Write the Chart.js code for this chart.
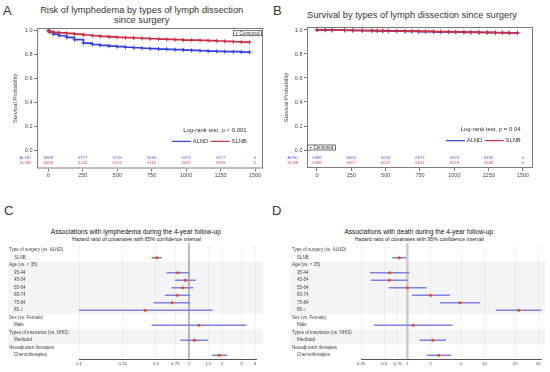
<!DOCTYPE html>
<html>
<head>
<meta charset="utf-8">
<script src="https://cdn.jsdelivr.net/npm/chart.js@4.4.0/dist/chart.umd.min.js"></script>
<style>
body { margin: 0; width: 550px; height: 372px; background: #fff; position: relative; overflow: hidden;
       font-family: "Liberation Sans", Arial, sans-serif; color: #333; }
canvas { position: absolute; }
.lt { position: absolute; font-size: 13px; line-height: 13px; color: #333; }
.tt { position: absolute; white-space: nowrap; transform: translateX(-50%); color: #333; }
</style>
</head>
<body>
<div class="lt" style="left:3px;top:4px">A</div>
<div class="lt" style="left:273px;top:4px">B</div>
<div class="lt" style="left:4px;top:204px">C</div>
<div class="lt" style="left:272px;top:204px">D</div>

<div class="tt" style="left:141.7px;top:6.1px;font-size:9.3px;line-height:9.3px">Risk of lymphedema by types of lymph dissection</div>
<div class="tt" style="left:141.7px;top:16.4px;font-size:9.3px;line-height:9.3px">since surgery</div>
<div class="tt" style="left:412px;top:11.1px;font-size:9.3px;line-height:9.3px">Survival by types of lymph dissection since surgery</div>
<div class="tt" style="left:135.8px;top:229.4px;font-size:6.6px;line-height:6.6px;color:#111">Associations with lymphedema during the 4-year follow-up</div>
<div class="tt" style="left:136.4px;top:236.5px;font-size:5.3px;line-height:5.3px;color:#222">Hazard ratio of covariates with 95% confidence interval</div>
<div class="tt" style="left:418.8px;top:229.4px;font-size:6.6px;line-height:6.6px;color:#111">Associations with death during the 4-year follow-up</div>
<div class="tt" style="left:419.2px;top:236.5px;font-size:5.3px;line-height:5.3px;color:#222">Hazard ratio of covariates with 95% confidence interval</div>

<canvas id="kmA" width="275" height="185" style="left:0;top:0"></canvas>
<canvas id="kmB" width="275" height="185" style="left:275px;top:0"></canvas>
<canvas id="forestC" width="275" height="192" style="left:0;top:180px"></canvas>
<canvas id="forestD" width="275" height="192" style="left:275px;top:180px"></canvas>

<script>
// ---- A: lymphedema-free probability (days since surgery)
var daysA = [0, 10, 36, 80, 134, 190, 255, 320, 377, 440, 498, 560, 620, 680, 738, 800, 859, 920, 980, 1040, 1101, 1160, 1222, 1280, 1343, 1400, 1460];
var alndA = [1.0, 0.99, 0.972, 0.958, 0.945, 0.925, 0.897, 0.885, 0.878, 0.872, 0.867, 0.862, 0.858, 0.854, 0.85, 0.847, 0.845, 0.842, 0.839, 0.836, 0.833, 0.83, 0.828, 0.826, 0.825, 0.822, 0.82];
var slnbA = [1.0, 0.993, 0.987, 0.982, 0.978, 0.972, 0.964, 0.958, 0.953, 0.949, 0.945, 0.942, 0.939, 0.936, 0.933, 0.93, 0.928, 0.925, 0.922, 0.921, 0.92, 0.917, 0.914, 0.911, 0.908, 0.905, 0.903];

// ---- B: overall survival
var daysB = [0, 60, 110, 200, 260, 330, 400, 440, 480, 520, 580, 640, 690, 740, 790, 850, 900, 960, 1010, 1070, 1120, 1180, 1240, 1300, 1350, 1400, 1460];
var alndB = [1.0, 0.999, 0.998, 0.997, 0.996, 0.995, 0.994, 0.993, 0.992, 0.991, 0.99, 0.989, 0.988, 0.987, 0.986, 0.985, 0.984, 0.983, 0.982, 0.981, 0.98, 0.979, 0.978, 0.977, 0.977, 0.976, 0.975];
var slnbB = [1.0, 1.0, 0.999, 0.998, 0.997, 0.996, 0.995, 0.994, 0.994, 0.993, 0.992, 0.991, 0.99, 0.989, 0.988, 0.987, 0.986, 0.985, 0.984, 0.983, 0.982, 0.981, 0.98, 0.979, 0.978, 0.977, 0.976];

// number at risk
var riskDays = [0, 250, 500, 750, 1000, 1250, 1500];
var riskAlndA = [6688, 5977, 5734, 5584, 5476, 5377, 0];
var riskSlnbA = [6688, 6244, 6206, 6115, 6035, 5968, 0];
var riskAlndB = [6688, 6665, 6626, 6577, 6529, 6480, 0];
var riskSlnbB = [6688, 6667, 6637, 6617, 6578, 6548, 0];

var kmXTicks = [0, 250, 500, 750, 1000, 1250, 1500];
var kmYTicks = [0, 0.2, 0.4, 0.6, 0.8, 1.0];

// ---- C / D: hazard ratios (null = header row)
var rowLabels = ['Type of surgery (vs. ALND)', '    SLNB', 'Age (vs. < 35)', '    35-44', '    45-54', '    55-64',
  '    65-74', '    75-84', '    85 \u2264', 'Sex (vs. Female)', '    Male', 'Types of insurance (vs. NHIS)',
  '    Medicaid', 'Neoadjuvant therapies', '    Chemotherapies'];
var hrC   = [null, 0.51, null, 0.79, 0.925, 0.877, 0.78, 0.70, 0.40, null, 1.23, null, 1.12, null, 1.89];
var lowC  = [null, 0.46, null, 0.63, 0.75, 0.70, 0.61, 0.48, 0.097, null, 0.46, null, 0.84, null, 1.62];
var highC = [null, 0.565, null, 1.0, 1.15, 1.09, 1.02, 1.02, 1.63, null, 3.3, null, 1.49, null, 2.21];
var hrD   = [null, 0.785, null, 0.59, 0.58, 1.0, 2.0, 4.8, 28, null, 1.19, null, 2.13, null, 2.55];
var lowD  = [null, 0.64, null, 0.33, 0.34, 0.58, 1.16, 2.67, 14.1, null, 0.37, null, 1.45, null, 1.8];
var highD = [null, 0.96, null, 1.05, 1.0, 1.75, 3.54, 8.75, 55, null, 3.83, null, 3.14, null, 3.65];
var ticksC = [0.1, 0.25, 0.5, 0.75, 1, 1.5, 2, 3, 4];
var ticksD = [0.25, 0.5, 0.75, 1, 2, 5, 10, 25, 50];

var FONT = '"Liberation Sans", Arial, sans-serif';
var BLUE = 'rgb(52,64,226)';
var RED = 'rgb(204,46,64)';

function pts(days, surv) {
  return days.map(function (d, i) { return { x: d, y: surv[i] }; });
}

// frame, risk table, log-rank text, legend and "Censored" key
var kmExtras = {
  id: 'kmExtras',
  afterDraw: function (chart, args, o) {
    var ctx = chart.ctx, a = chart.chartArea, xs = chart.scales.x, ys = chart.scales.y;
    ctx.save();
    ctx.strokeStyle = '#7a7a7a';
    ctx.lineWidth = 1;
    ctx.strokeRect(a.left + 0.5, a.top + 0.5, a.right - a.left - 1, a.bottom - a.top - 1);

    ctx.textBaseline = 'middle';
    o.risk.forEach(function (row) {
      var y = a.bottom - row.off;
      ctx.fillStyle = row.color;
      ctx.font = '4.2px ' + FONT;
      ctx.textAlign = 'right';
      ctx.fillText(row.name, a.left - o.labelGap, y);
      ctx.textAlign = 'center';
      riskDays.forEach(function (d, i) {
        ctx.fillText(String(row.values[i]), xs.getPixelForValue(d), y);
      });
    });

    var right = a.right - o.textRight;
    ctx.fillStyle = '#333';
    ctx.font = '6px ' + FONT;
    ctx.textAlign = 'right';
    ctx.fillText(o.logrank, right, ys.getPixelForValue(0.17));

    // legend
    var ly = ys.getPixelForValue(0.078);
    var x = right;
    ctx.font = '5.8px ' + FONT;
    [{ t: 'SLNB', c: RED }, { t: 'ALND', c: BLUE }].forEach(function (it) {
      var w = ctx.measureText(it.t).width;
      ctx.fillStyle = '#333';
      ctx.fillText(it.t, x, ly);
      x -= w + 1.8;
      ctx.strokeStyle = it.c;
      ctx.lineWidth = 1.2;
      ctx.beginPath(); ctx.moveTo(x - 19, ly); ctx.lineTo(x, ly); ctx.stroke();
      x -= 19 + 2.5;
    });

    // censored key
    ctx.font = '4.6px ' + FONT;
    var txt = '+ Censored';
    var bw = ctx.measureText(txt).width + 4, bh = 5;
    var bx, by;
    if (o.censorCorner === 'tr') { bx = a.right - bw - 1.5; by = a.top + 2.7; }
    else { bx = a.left + 0.5; by = ys.getPixelForValue(0) - bh; }
    ctx.fillStyle = '#fff';
    ctx.fillRect(bx, by, bw, bh);
    ctx.strokeStyle = '#333';
    ctx.lineWidth = 0.7;
    ctx.strokeRect(bx, by, bw, bh);
    ctx.fillStyle = '#333';
    ctx.textAlign = 'left';
    ctx.fillText(txt, bx + 2, by + bh / 2 + 0.2);
    ctx.restore();
  }
};

function kmChart(id, days, aln, sln, xr, yr, padL, padR, padT, padB, yW, extras) {
  return new Chart(document.getElementById(id), {
    type: 'line',
    data: {
      datasets: [
        { label: 'SLNB', data: pts(days, sln), borderColor: RED, backgroundColor: RED,
          pointBorderColor: RED, stepped: true, borderWidth: 1.7, pointStyle: 'cross', pointRadius: 2.1, pointBorderWidth: 0.9 },
        { label: 'ALND', data: pts(days, aln), borderColor: BLUE, backgroundColor: BLUE,
          pointBorderColor: BLUE, stepped: true, borderWidth: 1.7, pointStyle: 'cross', pointRadius: 2.1, pointBorderWidth: 0.9 }
      ]
    },
    options: {
      responsive: false,
      animation: false,
      layout: { padding: { left: padL, right: padR, top: padT, bottom: padB } },
      plugins: { legend: { display: false }, tooltip: { enabled: false }, kmExtras: extras },
      scales: {
        x: {
          type: 'linear', min: xr[0], max: xr[1],
          afterBuildTicks: function (s) { s.ticks = kmXTicks.map(function (v) { return { value: v }; }); },
          afterFit: function (s) { s.height = 12; },
          ticks: { font: { size: 5.5, family: FONT }, color: '#444', padding: 1, maxRotation: 0, autoSkip: false,
                   callback: function (v) { return String(v); } },
          grid: { display: true, drawOnChartArea: false, drawTicks: true, tickLength: 3, color: '#7a7a7a' },
          border: { display: false }
        },
        y: {
          min: yr[0], max: yr[1],
          afterBuildTicks: function (s) { s.ticks = kmYTicks.map(function (v) { return { value: v }; }); },
          afterFit: function (s) { s.width = yW; },
          ticks: { font: { size: 5.5, family: FONT }, color: '#444', padding: 1.5,
                   callback: function (v) { return Number(v).toFixed(1); } },
          grid: { display: true, drawOnChartArea: false, drawTicks: true, tickLength: 3, color: '#7a7a7a' },
          border: { display: false },
          title: { display: true, text: 'Survival Probability', font: { size: 5.8, family: FONT }, color: '#444',
                   padding: { top: 0, bottom: 0 } }
        }
      }
    },
    plugins: [kmExtras]
  });
}

kmChart('kmA', daysA, alndA, slnbA, [-82, 1558], [-0.148, 1.0225], 12, 12, 28, 4.5, 25, {
  risk: [{ name: 'ALND', color: 'rgb(90,90,210)', values: riskAlndA, off: 10.5 },
         { name: 'SLNB', color: 'rgb(205,80,100)', values: riskSlnbA, off: 5.3 }],
  labelGap: 6.3, textRight: 16.3, logrank: 'Log-rank test, p < 0.001', censorCorner: 'tr'
});
kmChart('kmB', daysB, alndB, slnbB, [-72.8, 1572.9], [-0.15, 1.025], 8, 17, 27, 5, 24, {
  risk: [{ name: 'ALND', color: 'rgb(90,90,210)', values: riskAlndB, off: 10.5 },
         { name: 'SLNB', color: 'rgb(205,80,100)', values: riskSlnbB, off: 5.3 }],
  labelGap: 8.7, textRight: 12.3, logrank: 'Log-rank test, p = 0.04', censorCorner: 'bl'
});

// shaded row groups + reference line at HR = 1
var forestExtras = {
  id: 'forestExtras',
  beforeDraw: function (chart, args, o) {
    var ctx = chart.ctx, ys = chart.scales.y, a = chart.chartArea;
    var half = (a.bottom - a.top) / rowLabels.length / 2;
    ctx.save();
    ctx.fillStyle = '#f4f4f4';
    o.bands.forEach(function (b) {
      var t = ys.getPixelForValue(b[0]) - half, btm = ys.getPixelForValue(b[1]) + half;
      ctx.fillRect(o.left, t, o.right - o.left, btm - t);
    });
    ctx.restore();
  },
  beforeDatasetsDraw: function (chart, args, o) {
    var ctx = chart.ctx, xs = chart.scales.x, a = chart.chartArea;
    var x = xs.getPixelForValue(1);
    ctx.save();
    ctx.strokeStyle = o.refColor;
    ctx.lineWidth = o.refWidth;
    ctx.beginPath(); ctx.moveTo(x, a.top - 3.5); ctx.lineTo(x, a.bottom); ctx.stroke();
    ctx.restore();
  }
};

function forestChart(id, hr, low, high, xr, ticks, padL, padR, yW, extras) {
  return new Chart(document.getElementById(id), {
    type: 'bar',
    data: {
      labels: rowLabels,
      datasets: [
        { type: 'line', indexAxis: 'y', data: hr, showLine: false, order: 0,
          pointRadius: 1.6, pointBorderWidth: 0, pointBackgroundColor: 'rgb(240,72,30)' },
        { type: 'bar', indexAxis: 'y', order: 1,
          data: low.map(function (l, i) { return l == null ? null : [l, high[i]]; }),
          backgroundColor: 'rgb(128,128,228)', barThickness: 1 }
      ]
    },
    options: {
      indexAxis: 'y',
      responsive: false,
      animation: false,
      layout: { padding: { left: padL, right: padR, top: 66.5, bottom: 2 } },
      plugins: { legend: { display: false }, tooltip: { enabled: false }, forestExtras: extras },
      scales: {
        x: {
          type: 'logarithmic', min: xr[0], max: xr[1],
          afterBuildTicks: function (s) { s.ticks = ticks.map(function (v) { return { value: v }; }); },
          afterFit: function (s) { s.height = 11; },
          ticks: { font: { size: 4.3, family: FONT }, color: '#444', padding: 2, maxRotation: 0, autoSkip: false,
                   callback: function (v) { return String(v); } },
          grid: { display: true, drawTicks: false, color: '#cfcfcf', lineWidth: 0.8 },
          border: { display: true, color: '#555', width: 1, dash: [1, 2] }
        },
        y: {
          type: 'category',
          afterFit: function (s) { s.width = yW; },
          ticks: { font: { size: 4.5, family: FONT }, color: '#444', crossAlign: 'far', autoSkip: false },
          grid: { display: false },
          border: { display: false }
        }
      }
    },
    plugins: [forestExtras]
  });
}

forestChart('forestC', hrC, lowC, highC, [0.1, 4.126], ticksC, 9, 18.3, 70,
  { bands: [[2, 8], [11, 12]], left: 8, right: 263, refColor: '#7a7a7a', refWidth: 1 });
forestChart('forestD', hrD, lowD, highD, [0.25, 55.3], ticksD, 17, 8.3, 69,
  { bands: [[2, 8], [11, 12]], left: 15, right: 270, refColor: '#c9c9c9', refWidth: 2.4 });
</script>
</body>
</html>
